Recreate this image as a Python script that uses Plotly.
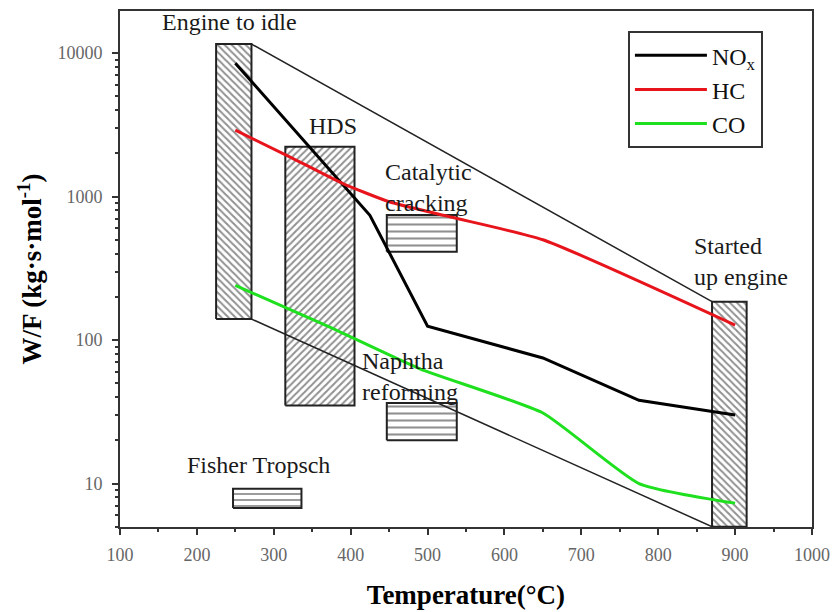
import math
import plotly.graph_objects as go

# ---- data ----
nox_t = [250, 425, 500, 650, 775, 900]
nox_v = [8500, 740, 125, 75, 38, 30]

hc_t = [250, 320, 390, 450, 530, 650, 900]
hc_v = [2900, 1900, 1230, 920, 720, 500, 127]

co_t = [250, 370, 490, 650, 775, 900]
co_v = [240, 125, 63, 31, 10, 7.3]

# process regions: (x0, x1, y0, y1)
engine_idle = [225, 271, 140, 11550]
hds = [315, 405, 35, 2220]
started_up = [870, 915, 5, 185]
cat_cracking = [447, 538, 412, 743]
naphtha = [447, 538, 20, 36.4]
fisher = [247, 336, 6.75, 9.2]

# envelope lines
env_upper_t = [271, 870]
env_upper_v = [11550, 185]
env_lower_t = [271, 870]
env_lower_v = [140, 5]

x_ticks = [100, 200, 300, 400, 500, 600, 700, 800, 900, 1000]
y_ticks = [10, 100, 1000, 10000]

FONT = "Liberation Serif, Times New Roman, serif"

fig = go.Figure()


def box(r, shape, size, solidity):
    x0, x1, y0, y1 = r
    fig.add_trace(go.Scatter(
        x=[x0, x1, x1, x0, x0], y=[y0, y0, y1, y1, y0],
        mode="lines", fill="toself", fillcolor="white",
        fillpattern=dict(shape=shape, size=size, solidity=solidity,
                         fgcolor="#222222", bgcolor="white"),
        line=dict(color="#222222", width=2),
        showlegend=False, hoverinfo="skip"))


box(engine_idle, "\\", 5, 0.4)
box(hds, "/", 5, 0.4)
box(started_up, "\\", 5, 0.4)
box(cat_cracking, "-", 7, 0.3)
box(naphtha, "-", 7, 0.3)
box(fisher, "-", 6, 0.3)

for xs, ys in [(env_upper_t, env_upper_v), (env_lower_t, env_lower_v)]:
    fig.add_trace(go.Scatter(x=xs, y=ys, mode="lines",
                             line=dict(color="#222222", width=1.5),
                             showlegend=False, hoverinfo="skip"))

fig.add_trace(go.Scatter(x=nox_t, y=nox_v, mode="lines", name="NO<sub>x</sub>",
                         line=dict(color="black", width=3)))
fig.add_trace(go.Scatter(x=hc_t, y=hc_v, mode="lines", name="HC",
                         line=dict(color="#e8141c", width=3, shape="spline", smoothing=0.5)))
fig.add_trace(go.Scatter(x=co_t, y=co_v, mode="lines", name="CO",
                         line=dict(color="#1fe01f", width=3, shape="spline", smoothing=0.5)))

ann_font = dict(family=FONT, size=24, color="#1a1a1a")
anns = [
    (243, 16500, "Engine to idle", "center"),
    (377, 3100, "HDS", "center"),
    (442, 1156, "Catalytic<br>cracking", "left"),
    (412, 56, "Naphtha<br>reforming", "left"),
    (185, 13.5, "Fisher Tropsch", "left"),
    (844, 352, "Started<br>up engine", "left"),
]
for x, y, t, anc in anns:
    fig.add_annotation(x=x, y=math.log10(y), text=t, showarrow=False,
                       xanchor=anc, yanchor="middle", align="left",
                       font=ann_font)

# page body adds an 8px offset; margins compensate
fig.update_layout(
    width=838, height=612,
    margin=dict(l=112, r=34, t=3, b=93, autoexpand=False),
    paper_bgcolor="white", plot_bgcolor="white",
    font=dict(family=FONT, color="black"),
    legend=dict(x=0.734, y=0.961, xanchor="left", yanchor="top",
                bordercolor="#333333", borderwidth=2, bgcolor="white",
                font=dict(family=FONT, size=24, color="#111111"),
                itemwidth=72),
)

fig.update_xaxes(
    range=[100, 1000], tickvals=x_ticks,
    ticks="outside", ticklen=6, tickwidth=1.5, tickcolor="#333",
    minor=dict(ticks="outside", ticklen=3, dtick=50, tick0=0, tickcolor="#333"),
    showline=True, linecolor="#333", linewidth=2, mirror=True,
    showgrid=False, zeroline=False,
    ticklabelstandoff=4,
    tickfont=dict(family=FONT, size=18, color="#666"),
    title=dict(text="<b>Temperature(°C)</b>", font=dict(family=FONT, size=27, color="black"),
               standoff=22),
)
fig.update_yaxes(
    type="log", range=[0.697, 4.293], tickvals=y_ticks, ticktext=["10", "100", "1000", "10000"],
    ticks="outside", ticklen=6, tickwidth=1.5, tickcolor="#333",
    minor=dict(ticks="outside", ticklen=3, dtick="D1", tickcolor="#333"),
    showline=True, linecolor="#333", linewidth=2, mirror=True,
    showgrid=False, zeroline=False,
    ticklabelstandoff=6,
    tickfont=dict(family=FONT, size=18, color="#666"),
    title=dict(text="<b>W/F (kg·s·mol<sup>-1</sup>)</b>", font=dict(family=FONT, size=27, color="black"),
               standoff=8),
)

fig.write_html("out.html")
